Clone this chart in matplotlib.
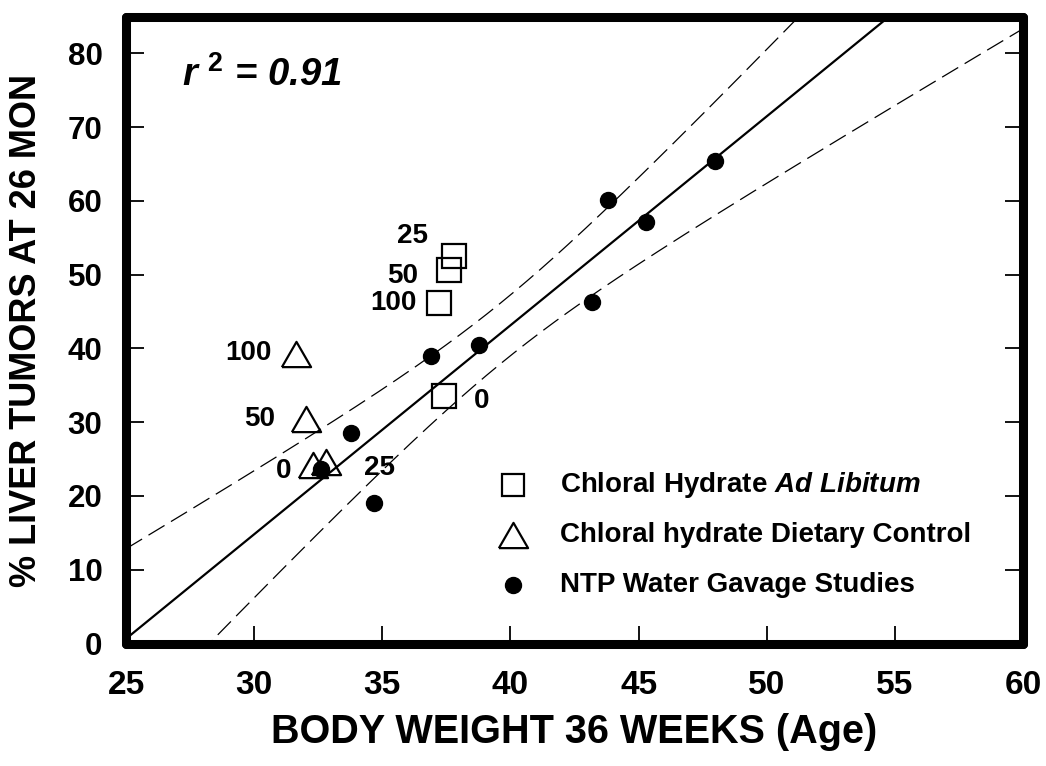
import numpy as np
import matplotlib
matplotlib.use('Agg')
import matplotlib.pyplot as plt

plt.rcParams['font.family'] = ['Liberation Sans', 'DejaVu Sans']
plt.rcParams['font.weight'] = 'bold'
plt.rcParams['mathtext.fontset'] = 'custom'
plt.rcParams['mathtext.rm'] = 'Liberation Sans:bold'
plt.rcParams['mathtext.bf'] = 'Liberation Sans:bold'
plt.rcParams['mathtext.it'] = 'Liberation Sans:italic:bold'

# peso corporal (g) x % tumores hepaticos
ad_lib_peso = [37.80, 37.59, 37.20, 37.41]
ad_lib_tumor = [52.6, 50.6, 46.2, 33.5]
ad_lib_dose = ['25', '50', '100', '0']

dieta_peso = [31.62, 32.03, 32.31, 32.81]
dieta_tumor = [39.3, 30.4, 24.2, 24.6]
dieta_dose = ['100', '50', '0', '25']

ntp_peso = [32.59, 33.78, 34.69, 36.89, 38.77, 43.18, 43.79, 45.29, 47.98]
ntp_tumor = [23.7, 28.5, 19.0, 39.0, 40.5, 46.3, 60.1, 57.2, 65.4]

legendas = ['Chloral Hydrate $\\mathit{Ad\\ Libitum}$',
            'Chloral hydrate Dietary Control',
            'NTP Water Gavage Studies']

# deslocamento (em pixels) do rotulo de dose em relacao ao ponto
desl_ad_lib = [(-42, 20), (-46, -6), (-45, 0), (38, -5)]
desl_dieta = [(-47, 1), (-47, 0), (-30, -6), (53, -6)]

# triangulo equilatero
triangulo = [(-1, -0.866), (1, -0.866), (0, 0.866), (-1, -0.866)]

fig = plt.figure(figsize=(10.46, 7.66), dpi=100)
ax = fig.add_axes([0.1205, 0.1599, 0.8576, 0.8185])

# regressao linear com intervalo de confianca 95% (so NTP)
x = np.array(ntp_peso)
y = np.array(ntp_tumor)
n = len(x)
coef = np.polyfit(x, y, 1)
resid = y - np.polyval(coef, x)
s = np.sqrt(np.sum(resid ** 2) / (n - 2))
sxx = np.sum((x - x.mean()) ** 2)
t = 2.365

xs = np.linspace(25, 60, 200)
ys = np.polyval(coef, xs)
meia = t * s * np.sqrt(1 / n + (xs - x.mean()) ** 2 / sxx)

ax.plot(xs, ys, color='black', lw=1.6, zorder=2)
ax.plot(xs, ys + meia, color='black', lw=0.9, dashes=(15, 6), zorder=2)
ax.plot(xs, ys - meia, color='black', lw=0.9, dashes=(15, 6), zorder=2)

ax.plot(ad_lib_peso, ad_lib_tumor, 's', ms=17, mfc='none', mec='black', mew=1.6, zorder=3)
ax.plot(dieta_peso, dieta_tumor, marker=triangulo, ls='none', ms=21, mfc='none', mec='black', mew=1.6, zorder=3)
ax.plot(ntp_peso, ntp_tumor, 'o', ms=11.5, color='black', zorder=3)

for px, py, d, (dx, dy) in zip(ad_lib_peso, ad_lib_tumor, ad_lib_dose, desl_ad_lib):
    ax.annotate(d, (px, py), xytext=(dx * 0.72, dy * 0.72), textcoords='offset points',
                ha='center', va='center', fontsize=20, fontweight='bold')
for px, py, d, (dx, dy) in zip(dieta_peso, dieta_tumor, dieta_dose, desl_dieta):
    ax.annotate(d, (px, py), xytext=(dx * 0.72, dy * 0.72), textcoords='offset points',
                ha='center', va='center', fontsize=20, fontweight='bold')

# legenda montada a mao
estilos = [dict(marker='s', ms=16, mfc='none', mec='black', mew=1.6),
           dict(marker=triangulo, ms=21, mfc='none', mec='black', mew=1.6),
           dict(marker='o', ms=11.5, color='black')]
linhas_y = [0.2534, 0.1737, 0.094]
for est, texto, ly in zip(estilos, legendas, linhas_y):
    ax.plot([0.4314], [ly], transform=ax.transAxes, ls='none', clip_on=False, **est)
    ax.text(0.4838, ly, texto, transform=ax.transAxes, va='center', ha='left',
            fontsize=20, fontweight='bold')

ax.text(0.0624, 0.89, 'r $^{2}$ = 0.91', transform=ax.transAxes, fontsize=27.5,
        fontweight='bold', style='italic', va='baseline')

ax.set_xlim(25, 60)
ax.set_ylim(0, 85)
ax.set_xticks(range(25, 61, 5))
ax.set_yticks(range(0, 81, 10))

for lado in ax.spines.values():
    lado.set_linewidth(6.5)
    lado.set_capstyle('round')

ax.tick_params(axis='both', direction='in', length=13, width=1.3)
ax.tick_params(axis='y', right=True, labelsize=22.5, pad=17)
ax.tick_params(axis='x', labelsize=24, pad=19)

ax.set_xlabel('BODY WEIGHT 36 WEEKS (Age)', fontsize=28.5, fontweight='bold', labelpad=9)
ax.set_ylabel('% LIVER TUMORS AT 26 MON', fontsize=26, fontweight='bold', labelpad=17)

fig.savefig('out.png', dpi=100)
